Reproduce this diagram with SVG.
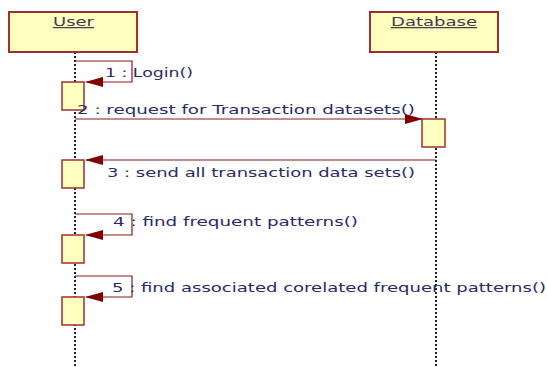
<svg xmlns="http://www.w3.org/2000/svg" width="547" height="367" viewBox="0 0 547 367">
<style>
.head{fill:#ffffc0;stroke:#a03030;stroke-width:2}
.act{fill:#ffffc0;stroke:#a03030;stroke-width:1.5}
.life{stroke:#202020;stroke-width:2;stroke-dasharray:2 2;fill:none}
.msg{stroke:#8b1a1a;stroke-width:1.2;fill:none;marker-end:url(#arr)}
.lbl{font-family:"DejaVu Sans",Verdana,sans-serif;font-size:12.5px;fill:#2a2a6a}
.hl{font-family:"DejaVu Sans",Verdana,sans-serif;font-size:12.5px;fill:#404050;text-decoration:underline}
</style>
<defs>
<marker id="arr" viewBox="0 0 18 10" refX="17" refY="5" markerWidth="18" markerHeight="10" markerUnits="userSpaceOnUse" orient="auto">
<path d="M0,0 L18,5 L0,10 Z" fill="#800000"/>
</marker>
</defs>
<rect width="547" height="367" fill="#ffffff"/>
<g id="lifelines">
<line class="life" x1="75" y1="52" x2="75" y2="367"/>
<line class="life" x1="436" y1="52" x2="436" y2="367"/>
</g>
<g id="user">
<rect class="head" x="9" y="12" width="128" height="40"/>
<text class="hl" x="73.5" y="26" text-anchor="middle" textLength="41" lengthAdjust="spacingAndGlyphs">User</text>
</g>
<g id="database">
<rect class="head" x="370" y="12" width="128" height="40"/>
<text class="hl" x="434" y="26" text-anchor="middle" textLength="86" lengthAdjust="spacingAndGlyphs">Database</text>
</g>
<g id="activations">
<rect class="act" x="62" y="82" width="22" height="28"/>
<rect class="act" x="422" y="119" width="23" height="28"/>
<rect class="act" x="62" y="160" width="22" height="28"/>
<rect class="act" x="62" y="235" width="22" height="28"/>
<rect class="act" x="62" y="297" width="22" height="28"/>
</g>
<g id="connectors">
<path class="msg" d="M75,61 H132 V82 H86"/>
<path class="msg" d="M75,119 H422"/>
<path class="msg" d="M436,160 H86"/>
<path class="msg" d="M75,214 H132 V235 H86"/>
<path class="msg" d="M75,276 H132 V297 H86"/>
</g>
<g id="labels">
<text class="lbl" x="105" y="77" textLength="88" lengthAdjust="spacingAndGlyphs">1 : Login()</text>
<text class="lbl" x="77" y="114" textLength="338" lengthAdjust="spacingAndGlyphs">2 : request for Transaction datasets()</text>
<text class="lbl" x="107" y="177" textLength="308" lengthAdjust="spacingAndGlyphs">3 : send all transaction data sets()</text>
<text class="lbl" x="113" y="226" textLength="245" lengthAdjust="spacingAndGlyphs">4 : find frequent patterns()</text>
<text class="lbl" x="112" y="292" textLength="434" lengthAdjust="spacingAndGlyphs">5 : find associated corelated frequent patterns()</text>
</g>
</svg>
